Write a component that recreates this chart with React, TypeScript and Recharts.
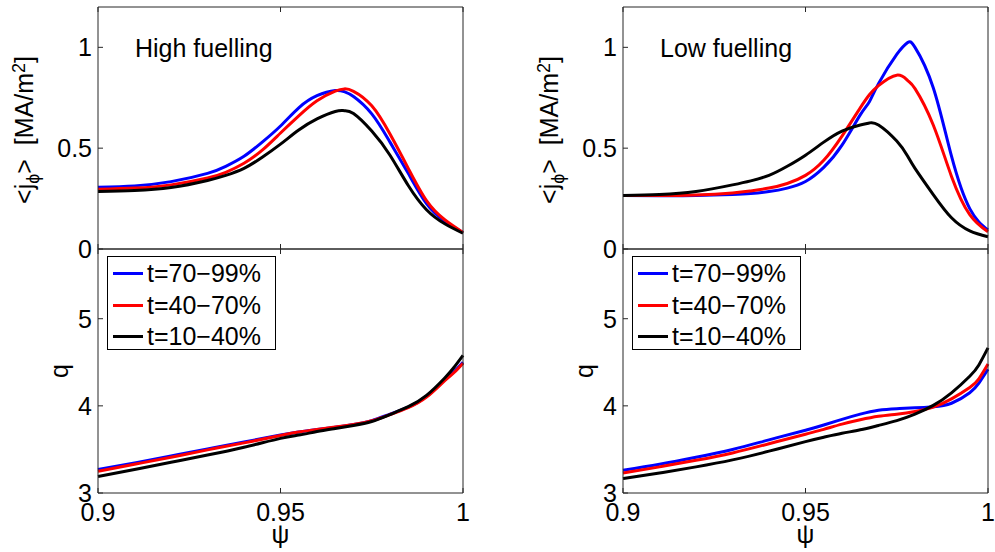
import React from 'react';
import { LineChart, Line, XAxis, YAxis, Legend, Label } from 'recharts';

// current density <j_phi> [MA/m^2], high fuelling
const PSI_J_HIGH = [0.9, 0.91, 0.92, 0.93, 0.935, 0.94, 0.945, 0.95, 0.955, 0.96, 0.965, 0.9675, 0.97, 0.975, 0.98, 0.985, 0.99, 0.995, 1];
const J_HIGH_LATE = [0.306, 0.313, 0.334, 0.375, 0.41, 0.46, 0.53, 0.61, 0.7, 0.76, 0.786, 0.78, 0.756, 0.67, 0.53, 0.375, 0.225, 0.138, 0.082];
const J_HIGH_MID = [0.296, 0.302, 0.318, 0.352, 0.38, 0.425, 0.49, 0.575, 0.66, 0.735, 0.783, 0.794, 0.782, 0.71, 0.57, 0.4, 0.24, 0.145, 0.082];
const J_HIGH_EARLY = [0.285, 0.29, 0.305, 0.34, 0.365, 0.4, 0.455, 0.52, 0.59, 0.645, 0.682, 0.686, 0.672, 0.585, 0.465, 0.315, 0.195, 0.125, 0.078];

// current density, low fuelling
const PSI_J_LOW = [0.9, 0.91, 0.92, 0.93, 0.935, 0.94, 0.945, 0.95, 0.955, 0.96, 0.965, 0.9675, 0.97, 0.975, 0.978, 0.98, 0.985, 0.99, 0.995, 1];
const J_LOW_LATE = [0.265, 0.264, 0.265, 0.27, 0.275, 0.285, 0.302, 0.335, 0.405, 0.515, 0.665, 0.73, 0.82, 0.965, 1.024, 1.0, 0.8, 0.46, 0.2, 0.094];
const J_LOW_MID = [0.265, 0.265, 0.268, 0.278, 0.288, 0.302, 0.325, 0.365, 0.44, 0.56, 0.7, 0.765, 0.81, 0.862, 0.835, 0.795, 0.615, 0.36, 0.17, 0.085];
const J_LOW_EARLY = [0.265, 0.27, 0.285, 0.318, 0.338, 0.365, 0.41, 0.465, 0.53, 0.585, 0.615, 0.625, 0.615, 0.535, 0.46, 0.4, 0.27, 0.155, 0.09, 0.061];

// safety factor q
const PSI_Q = [0.9, 0.91, 0.92, 0.93, 0.94, 0.95, 0.955, 0.96, 0.965, 0.97, 0.975, 0.98, 0.985, 0.99, 0.995, 0.9975, 1];
const Q_HIGH_LATE = [3.27, 3.345, 3.425, 3.505, 3.585, 3.665, 3.7, 3.73, 3.755, 3.785, 3.83, 3.905, 3.985, 4.11, 4.3, 4.39, 4.5];
const Q_HIGH_MID = [3.25, 3.33, 3.41, 3.495, 3.575, 3.66, 3.7, 3.73, 3.757, 3.787, 3.83, 3.9, 3.98, 4.1, 4.29, 4.38, 4.49];
const Q_HIGH_EARLY = [3.19, 3.27, 3.352, 3.435, 3.525, 3.627, 3.665, 3.705, 3.74, 3.775, 3.82, 3.9, 3.99, 4.12, 4.32, 4.44, 4.58];
const Q_LOW_LATE = [3.26, 3.33, 3.41, 3.5, 3.61, 3.72, 3.78, 3.845, 3.905, 3.95, 3.968, 3.977, 3.99, 4.03, 4.15, 4.26, 4.42];
const Q_LOW_MID = [3.23, 3.3, 3.375, 3.46, 3.565, 3.675, 3.73, 3.79, 3.84, 3.88, 3.905, 3.935, 3.985, 4.08, 4.21, 4.31, 4.48];
const Q_LOW_EARLY = [3.165, 3.23, 3.3, 3.38, 3.48, 3.59, 3.64, 3.685, 3.725, 3.775, 3.83, 3.905, 4.005, 4.15, 4.34, 4.47, 4.665];

const X_TICKS = [0.9, 0.95, 1];
const J_TICKS = [0, 0.5, 1];
const Q_TICKS = [3, 4, 5];

const SERIES = [
  { key: 'late', name: 't=70\u221299%', color: '#0000ff' },
  { key: 'mid', name: 't=40\u221270%', color: '#ff0000' },
  { key: 'early', name: 't=10\u221240%', color: '#000000' },
];

const FONT = '"Liberation Sans", Arial, Helvetica, sans-serif';
const AXIS = '#262626';
const tickStyle = { fill: '#000', fontSize: 25, fontFamily: FONT };
const blank = () => '';

const rows = (psi: number[], late: number[], mid: number[], early: number[]) =>
  psi.map((p, i) => ({ psi: p, late: late[i], mid: mid[i], early: early[i] }));

const JLabel = () => (
  <text x={33} y={130} transform="rotate(-90 33 130)" textAnchor="middle" fontSize={25} fontFamily={FONT} fill="#000">
    <tspan>&lt;j</tspan>
    <tspan fontSize={18} dy={6}>{'\u03d5'}</tspan>
    <tspan dy={-6}>&gt;{'\u00a0\u00a0'}[MA/m</tspan>
    <tspan fontSize={18} dy={-8}>2</tspan>
    <tspan dy={8}>]</tspan>
  </text>
);

const QLabel = () => (
  <text x={68} y={128} transform="rotate(-90 68 128)" textAnchor="middle" fontSize={25} fontFamily={FONT} fill="#000">q</text>
);

const PsiLabel = () => (
  <text x={280.5} y={300} textAnchor="middle" fontSize={25} fontFamily={FONT} fill="#000">ψ</text>
);

const LegendBox = () => (
  <div style={{ boxSizing: 'border-box', width: 169, height: 94, border: '1px solid #000', background: '#fff', paddingTop: 1, fontFamily: FONT }}>
    {SERIES.map((s) => (
      <div key={s.key} style={{ height: 31.5, display: 'flex', alignItems: 'center', paddingLeft: 5 }}>
        <div style={{ width: 30, height: 3, background: s.color, marginRight: 4 }} />
        <span style={{ fontSize: 25, lineHeight: 1, color: '#000' }}>{s.name}</span>
      </div>
    ))}
  </div>
);

type PanelProps = {
  data: { psi: number }[];
  yDomain: [number, number];
  yTicks: number[];
  height: number;
  marginTop: number;
  xHeight: number;
  bottom: boolean;
  title?: string;
};

function Panel({ data, yDomain, yTicks, height, marginTop, xHeight, bottom, title }: PanelProps) {
  return (
    <LineChart width={470} height={height} data={data} margin={{ top: marginTop, right: 6, bottom: 0, left: 0 }}>
      <XAxis xAxisId="b" dataKey="psi" type="number" domain={[0.9, 1]} ticks={X_TICKS} interval={0}
        height={xHeight} stroke={AXIS} tickSize={-5} tickMargin={15} tick={tickStyle}
        tickFormatter={bottom ? undefined : blank}>
        {bottom && <Label content={PsiLabel} />}
      </XAxis>
      <XAxis xAxisId="t" orientation="top" dataKey="psi" type="number" domain={[0.9, 1]} ticks={X_TICKS} interval={0}
        height={1} stroke={AXIS} tickSize={-5} tickFormatter={blank}>
        {title && (
          <Label content={() => (
            <text x={135} y={57} fontSize={25} fontFamily={FONT} fill="#000">{title}</text>
          )} />
        )}
      </XAxis>
      <YAxis yAxisId="l" type="number" domain={yDomain} ticks={yTicks} interval={0} width={98}
        stroke={AXIS} tickSize={-5} tickMargin={11} tick={tickStyle}>
        <Label content={bottom ? QLabel : JLabel} />
      </YAxis>
      <YAxis yAxisId="r" orientation="right" type="number" domain={yDomain} ticks={yTicks} interval={0} width={1}
        stroke={AXIS} tickSize={-5} tickFormatter={blank} />
      {SERIES.map((s) => (
        <Line key={s.key} xAxisId="b" yAxisId="l" type="natural" dataKey={s.key} name={s.name}
          stroke={s.color} strokeWidth={3} dot={false} activeDot={false} isAnimationActive={false} />
      ))}
      {bottom && (
        <Legend layout="vertical" align="center" verticalAlign="middle"
          wrapperStyle={{ left: 107, top: 13, width: 169, height: 94 }} content={() => <LegendBox />} />
      )}
    </LineChart>
  );
}

export default function App() {
  const jHigh = rows(PSI_J_HIGH, J_HIGH_LATE, J_HIGH_MID, J_HIGH_EARLY);
  const jLow = rows(PSI_J_LOW, J_LOW_LATE, J_LOW_MID, J_LOW_EARLY);
  const qHigh = rows(PSI_Q, Q_HIGH_LATE, Q_HIGH_MID, Q_HIGH_EARLY);
  const qLow = rows(PSI_Q, Q_LOW_LATE, Q_LOW_MID, Q_LOW_EARLY);
  const pos = (left: number, top: number) => ({ position: 'absolute' as const, left, top });

  return (
    <div style={{ position: 'absolute', left: 0, top: 0, width: 995, height: 552, overflow: 'hidden', background: '#fff' }}>
      <div style={pos(0, 0)}>
        <Panel data={jHigh} yDomain={[0, 1.2]} yTicks={J_TICKS} height={272} marginTop={6} xHeight={23} bottom={false} title="High fuelling" />
      </div>
      <div style={pos(0, 243)}>
        <Panel data={qHigh} yDomain={[3, 5.8]} yTicks={Q_TICKS} height={309} marginTop={5} xHeight={59} bottom />
      </div>
      <div style={pos(525, 0)}>
        <Panel data={jLow} yDomain={[0, 1.2]} yTicks={J_TICKS} height={272} marginTop={6} xHeight={23} bottom={false} title="Low fuelling" />
      </div>
      <div style={pos(525, 243)}>
        <Panel data={qLow} yDomain={[3, 5.8]} yTicks={Q_TICKS} height={309} marginTop={5} xHeight={59} bottom />
      </div>
    </div>
  );
}
